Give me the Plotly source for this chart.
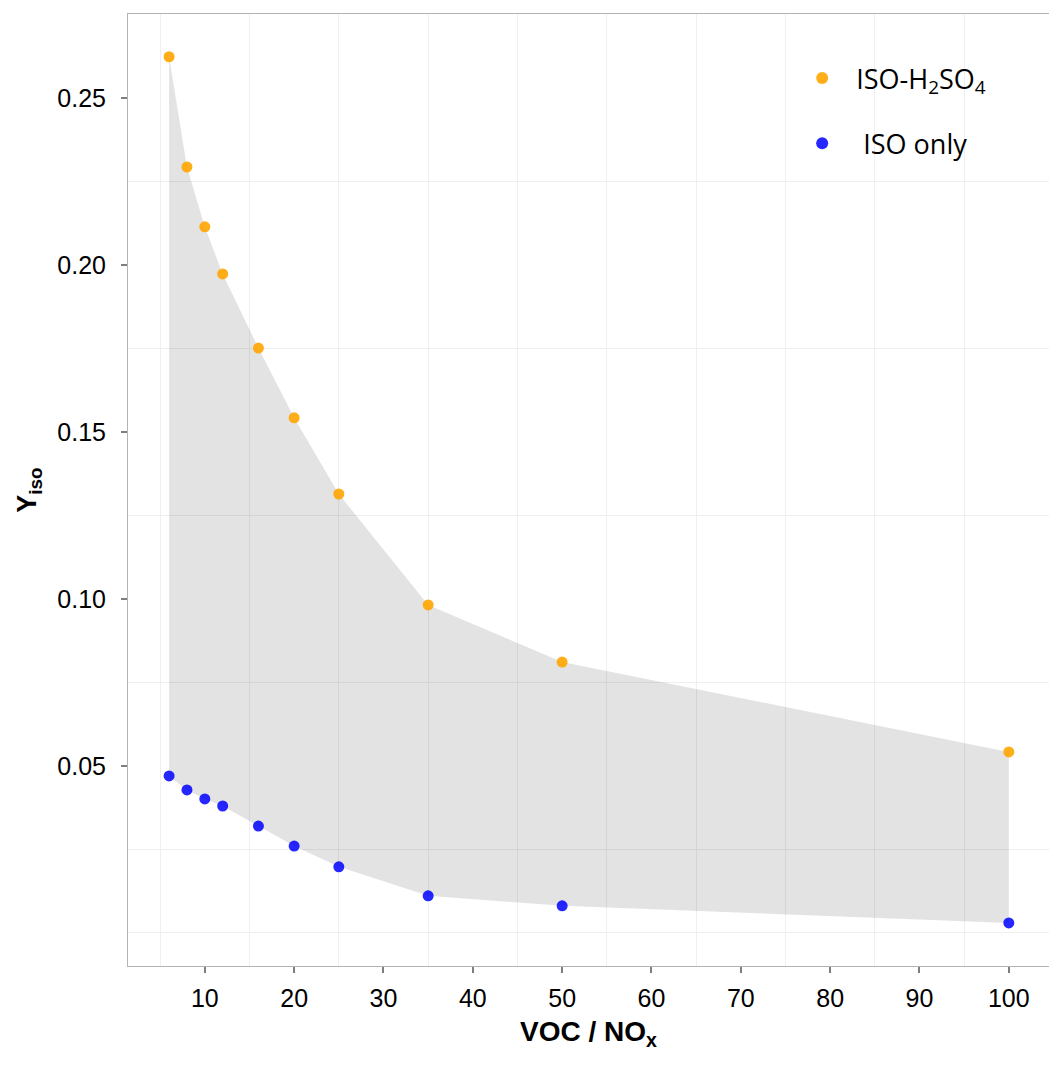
import plotly.graph_objects as go

voc_nox = [6, 8, 10, 12, 16, 20, 25, 35, 50, 100]
y_h2so4 = [0.2623, 0.2293, 0.2114, 0.1973, 0.1751, 0.1542, 0.1314, 0.0982, 0.0811, 0.0542]
y_iso_only = [0.0470, 0.0428, 0.0401, 0.0380, 0.0320, 0.0260, 0.0198, 0.0111, 0.0081, 0.0030]

x_ticks = [10, 20, 30, 40, 50, 60, 70, 80, 90, 100]
y_ticks = [0.05, 0.10, 0.15, 0.20, 0.25]
y_tick_labels = ["0.05", "0.10", "0.15", "0.20", "0.25"]
x_grid = [5, 15, 25, 35, 45, 55, 65, 75, 85, 95]
y_grid = [0.0, 0.025, 0.075, 0.125, 0.175, 0.225]

fig = go.Figure()

# ribbon between the two series
fig.add_trace(go.Scatter(x=voc_nox, y=y_iso_only, mode="lines", line=dict(width=0),
                         showlegend=False, hoverinfo="skip"))
fig.add_trace(go.Scatter(x=voc_nox, y=y_h2so4, mode="lines", line=dict(width=0),
                         fill="tonexty", fillcolor="rgba(0,0,0,0.11)",
                         showlegend=False, hoverinfo="skip"))

fig.add_trace(go.Scatter(x=voc_nox, y=y_h2so4, mode="markers", name="  ISO-H<sub>2</sub>SO<sub>4</sub>",
                         marker=dict(color="#FFA500", size=11, opacity=0.9),
                         legendgroup="a"))
fig.add_trace(go.Scatter(x=voc_nox, y=y_iso_only, mode="markers", name="   ISO only",
                         marker=dict(color="#0000FF", size=11, opacity=0.85),
                         legendgroup="b"))

fig.update_layout(
    width=1041, height=1052,
    margin=dict(l=120, r=0, t=6, b=94, autoexpand=False),
    paper_bgcolor="white", plot_bgcolor="white",
    font=dict(family="Liberation Sans, Arial, sans-serif", color="black"),
    legend=dict(x=0.732, y=0.958, xanchor="left", yanchor="top",
                bgcolor="rgba(0,0,0,0)", font=dict(size=27, family="Open Sans, Liberation Sans"),
                traceorder="grouped", tracegroupgap=27, itemsizing="constant"),
    xaxis=dict(range=[1.4, 104.5], tickvals=x_ticks, ticks="outside", ticklen=6,
               tickwidth=2, tickcolor="#7f7f7f", showgrid=False, zeroline=False,
               tickfont=dict(size=25), ticklabelstandoff=4,
               showline=True, linecolor="#b3b3b3", linewidth=1,
               mirror=True, automargin=False,
               minor=dict(tickvals=x_grid, showgrid=True, gridcolor="#efefef", gridwidth=1, ticks=""),
               title=dict(text="<b>VOC / NO<sub>x</sub></b>", font=dict(size=28), standoff=10)),
    yaxis=dict(range=[-0.0099, 0.2751], tickvals=y_ticks, ticktext=y_tick_labels,
               ticks="outside", ticklen=6, tickwidth=2, tickcolor="#7f7f7f",
               showgrid=False, zeroline=False, tickfont=dict(size=25), ticklabelstandoff=10,
               showline=True, linecolor="#b3b3b3", linewidth=1, mirror=True, automargin=False,
               minor=dict(tickvals=y_grid, showgrid=True, gridcolor="#efefef", gridwidth=1, ticks=""),
               title=dict(text="<b>Y<sub>iso</sub></b>", font=dict(size=27), standoff=12)),
)

fig.write_html("out.html")
